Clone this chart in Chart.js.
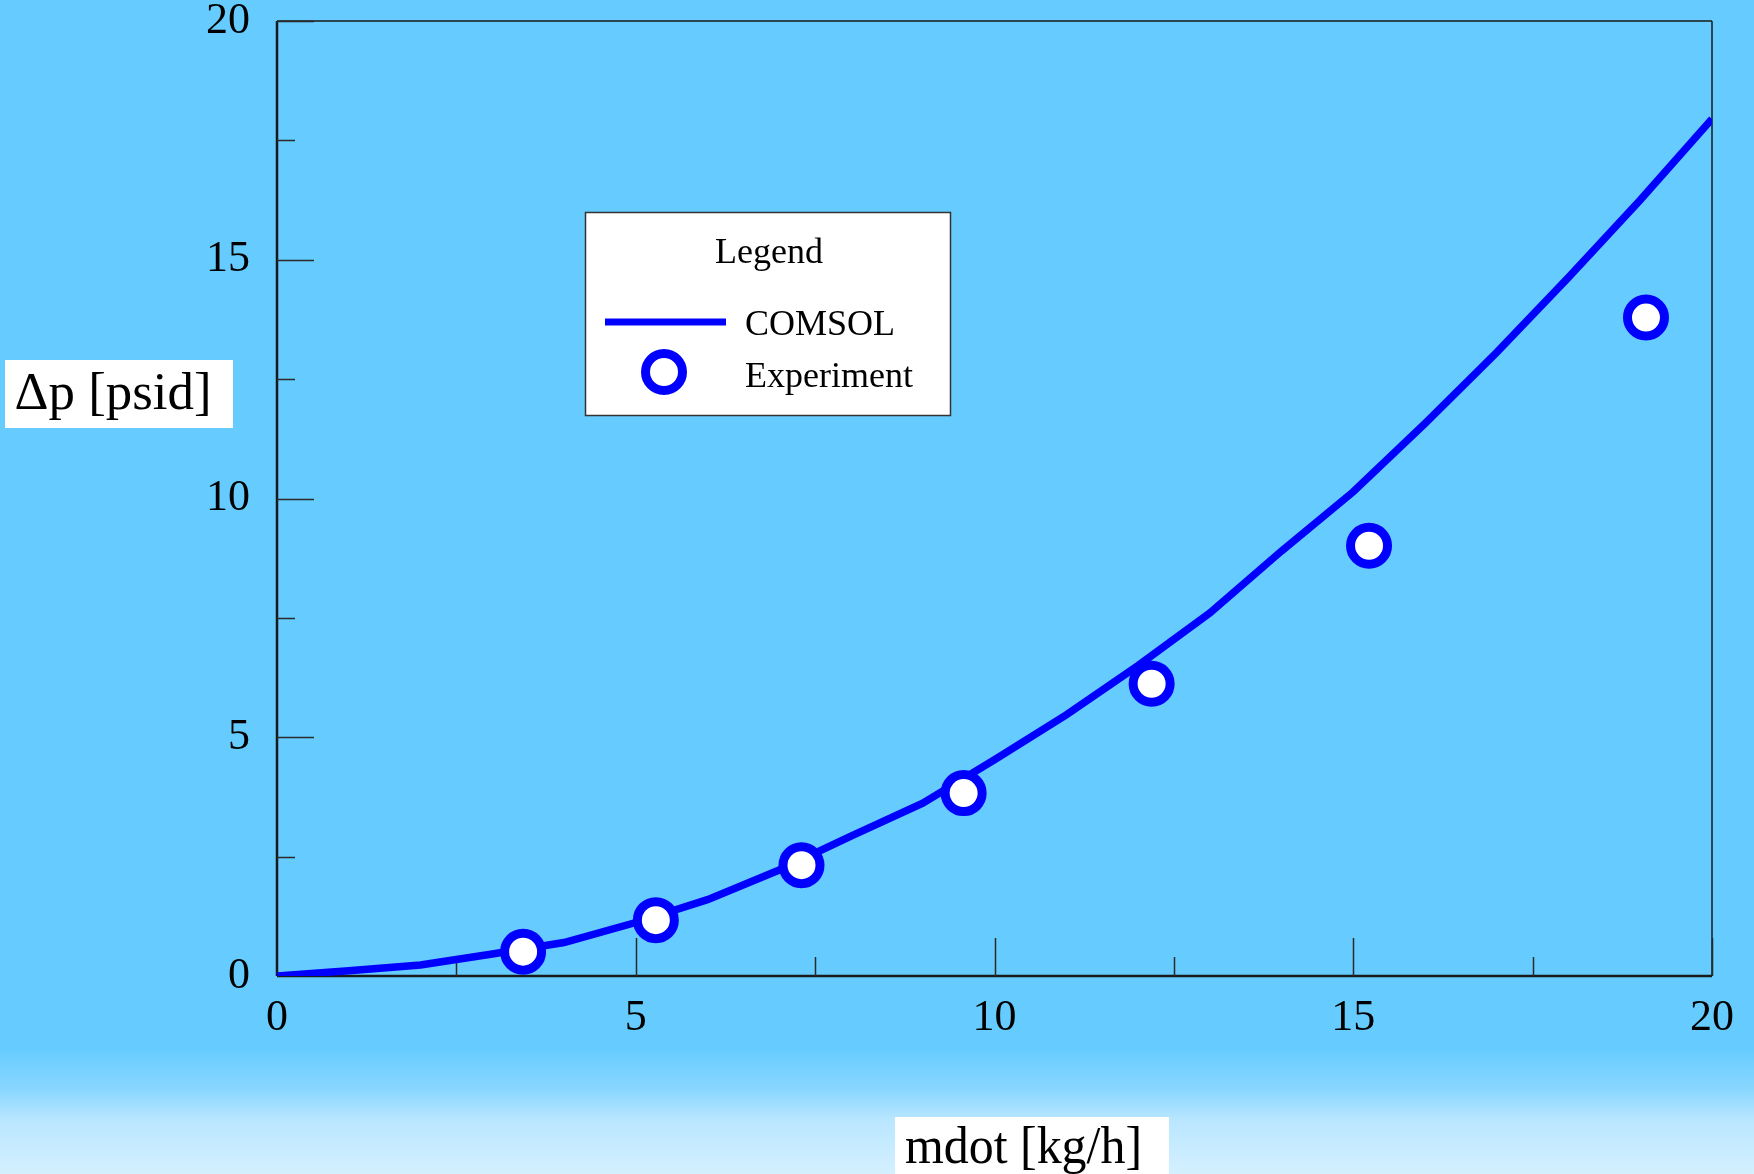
<!DOCTYPE html>
<html>
<head>
<meta charset="utf-8">
<title>Pressure drop vs. mass flow</title>
<script src="https://cdn.jsdelivr.net/npm/chart.js@4.4.1/dist/chart.umd.min.js"></script>
<style>
  html, body { margin: 0; padding: 0; background: #66CCFF; }
  canvas { display: block; }
</style>
</head>
<body>
<canvas id="chart" width="1754" height="1174"></canvas>
<script>
// Simulated curve (COMSOL): mass flow [kg/h] and pressure drop [psid]
const comsolFlow = [0, 1, 2, 3, 4, 5, 6, 7, 8, 9, 10, 11, 12, 13, 14, 15, 16, 17, 18, 19, 20];
const comsolDp   = [0, 0.11, 0.23, 0.46, 0.70, 1.12, 1.60, 2.22, 2.93, 3.62, 4.53, 5.47, 6.50, 7.60, 8.90, 10.14, 11.57, 13.06, 14.63, 16.25, 17.95];

// Measured points
const expFlow = [3.43, 5.28, 7.31, 9.57, 12.19, 15.22, 19.08];
const expDp   = [0.51, 1.17, 2.32, 3.83, 6.12, 9.01, 13.79];

// Axis ranges and tick steps
const xRange = [0, 20];
const yRange = [0, 20];
const majorStep = 5;
const minorStep = 2.5;

const seriesNames = ['COMSOL', 'Experiment'];
const legendTitle = 'Legend';
const xTitle = 'mdot [kg/h]';
const yTitle = '\u0394p [psid]';

const SERIF = '"Liberation Serif", "Times New Roman", serif';
const BLUE = '#0000FF';

// Sky-blue page background fading lighter toward the bottom
const backgroundPlugin = {
  id: 'background',
  beforeDraw(chart) {
    const { ctx, width, height } = chart;
    const g = ctx.createLinearGradient(0, 0, 0, height);
    g.addColorStop(0, '#66CCFF');
    g.addColorStop(1050 / height, '#66CCFF');
    g.addColorStop(1090 / height, '#8AD7FF');
    g.addColorStop(1120 / height, '#B9E6FF');
    g.addColorStop(1, '#D4F0FF');
    ctx.save();
    ctx.fillStyle = g;
    ctx.fillRect(0, 0, width, height);
    ctx.restore();
  }
};

// Box frame with inward major and minor tick marks
const framePlugin = {
  id: 'frame',
  beforeDatasetsDraw(chart) {
    const { ctx, chartArea: a, scales: { x, y } } = chart;
    ctx.save();
    ctx.strokeStyle = '#1a1a1a';
    ctx.lineCap = 'butt';

    ctx.lineWidth = 1.5;
    ctx.beginPath();
    ctx.moveTo(a.left, a.top); ctx.lineTo(a.right, a.top);
    ctx.moveTo(a.right, a.top); ctx.lineTo(a.right, a.bottom);
    ctx.stroke();

    ctx.lineWidth = 2.5;
    ctx.beginPath();
    ctx.moveTo(a.left, a.top); ctx.lineTo(a.left, a.bottom);
    ctx.moveTo(a.left, a.bottom); ctx.lineTo(a.right, a.bottom);
    ctx.stroke();

    ctx.lineWidth = 1.5;
    ctx.strokeStyle = '#2a2a2a';
    ctx.beginPath();
    for (let v = xRange[0] + minorStep; v <= xRange[1] + 1e-9; v += minorStep) {
      const px = Math.round(x.getPixelForValue(v)) + 0.5;
      const len = Math.abs(v % majorStep) < 1e-9 ? 38 : 19;
      ctx.moveTo(px, a.bottom);
      ctx.lineTo(px, a.bottom - len);
    }
    for (let v = yRange[0] + minorStep; v <= yRange[1] + 1e-9; v += minorStep) {
      const py = Math.round(y.getPixelForValue(v)) + 0.5;
      const len = Math.abs(v % majorStep) < 1e-9 ? 37 : 18;
      ctx.moveTo(a.left, py);
      ctx.lineTo(a.left + len, py);
    }
    ctx.stroke();
    ctx.restore();
  }
};

function boxedLabel(ctx, text, box, textLeft, baseline, targetWidth, fontPx) {
  ctx.save();
  ctx.fillStyle = '#FFFFFF';
  ctx.fillRect(box[0], box[1], box[2], box[3]);
  ctx.font = fontPx + 'px ' + SERIF;
  ctx.fillStyle = '#000000';
  ctx.textBaseline = 'alphabetic';
  ctx.textAlign = 'left';
  const w = ctx.measureText(text).width;
  const sx = targetWidth / w;
  ctx.translate(textLeft, baseline);
  ctx.scale(sx, 1);
  ctx.fillText(text, 0, 0);
  ctx.restore();
}

// Axis titles on white boxes and the framed legend
const overlayPlugin = {
  id: 'overlay',
  afterDraw(chart) {
    const { ctx } = chart;
    boxedLabel(ctx, yTitle, [5, 360, 228, 68], 14.5, 409, 197, 52);
    boxedLabel(ctx, xTitle, [895, 1117, 274, 60], 905, 1163, 237, 52);

    const ds = chart.data.datasets;
    ctx.save();
    ctx.fillStyle = '#FFFFFF';
    ctx.fillRect(585, 212, 366, 204);
    ctx.strokeStyle = '#333333';
    ctx.lineWidth = 1.5;
    ctx.strokeRect(585.5, 212.5, 365, 203);

    ctx.fillStyle = '#000000';
    ctx.font = '36px ' + SERIF;
    ctx.textBaseline = 'alphabetic';
    ctx.textAlign = 'center';
    ctx.fillText(legendTitle, 769, 263);

    ctx.textAlign = 'left';
    // line sample
    ctx.strokeStyle = ds[1].borderColor;
    ctx.lineWidth = 7;
    ctx.beginPath();
    ctx.moveTo(605, 322);
    ctx.lineTo(726, 322);
    ctx.stroke();
    ctx.fillText(ds[1].label, 745, 335);

    // marker sample
    ctx.beginPath();
    ctx.arc(664, 372, 18.5, 0, Math.PI * 2);
    ctx.fillStyle = '#FFFFFF';
    ctx.fill();
    ctx.lineWidth = 9;
    ctx.strokeStyle = ds[0].pointBorderColor;
    ctx.stroke();
    ctx.fillStyle = '#000000';
    ctx.fillText(ds[0].label, 745, 387);
    ctx.restore();
  }
};

const comsolPoints = comsolFlow.map((f, i) => ({ x: f, y: comsolDp[i] }));
const expPoints = expFlow.map((f, i) => ({ x: f, y: expDp[i] }));

function fixScale(size, horizontal) {
  return (scale) => {
    if (horizontal) scale.height = size; else scale.width = size;
    scale.paddingTop = 0; scale.paddingBottom = 0;
    scale.paddingLeft = 0; scale.paddingRight = 0;
  };
}

new Chart(document.getElementById('chart'), {
  type: 'scatter',
  data: {
    datasets: [
      {
        label: seriesNames[1],
        data: expPoints,
        showLine: false,
        pointRadius: 18.5,
        pointHoverRadius: 18.5,
        pointBorderWidth: 9,
        pointBorderColor: BLUE,
        pointBackgroundColor: '#FFFFFF',
        order: 0
      },
      {
        label: seriesNames[0],
        data: comsolPoints,
        showLine: true,
        borderColor: BLUE,
        borderWidth: 7.5,
        pointRadius: 0,
        tension: 0,
        fill: false,
        order: 1
      }
    ]
  },
  options: {
    responsive: false,
    devicePixelRatio: 1,
    animation: false,
    events: [],
    layout: { autoPadding: false, padding: { top: 21, right: 42, left: 0, bottom: 0 } },
    plugins: {
      legend: { display: false },
      tooltip: { enabled: false },
      title: { display: false }
    },
    scales: {
      x: {
        type: 'linear',
        min: xRange[0],
        max: xRange[1],
        afterFit: fixScale(198, true),
        grid: { display: false },
        border: { display: false },
        ticks: {
          stepSize: majorStep,
          padding: 8,
          color: '#000000',
          font: { family: SERIF, size: 44 },
          maxRotation: 0
        }
      },
      y: {
        type: 'linear',
        min: yRange[0],
        max: yRange[1],
        afterFit: fixScale(277, false),
        grid: { display: false },
        border: { display: false },
        ticks: {
          stepSize: majorStep,
          padding: 19,
          color: '#000000',
          font: { family: SERIF, size: 44, lineHeight: 0.9 }
        }
      }
    }
  },
  plugins: [backgroundPlugin, framePlugin, overlayPlugin]
});
</script>
</body>
</html>
